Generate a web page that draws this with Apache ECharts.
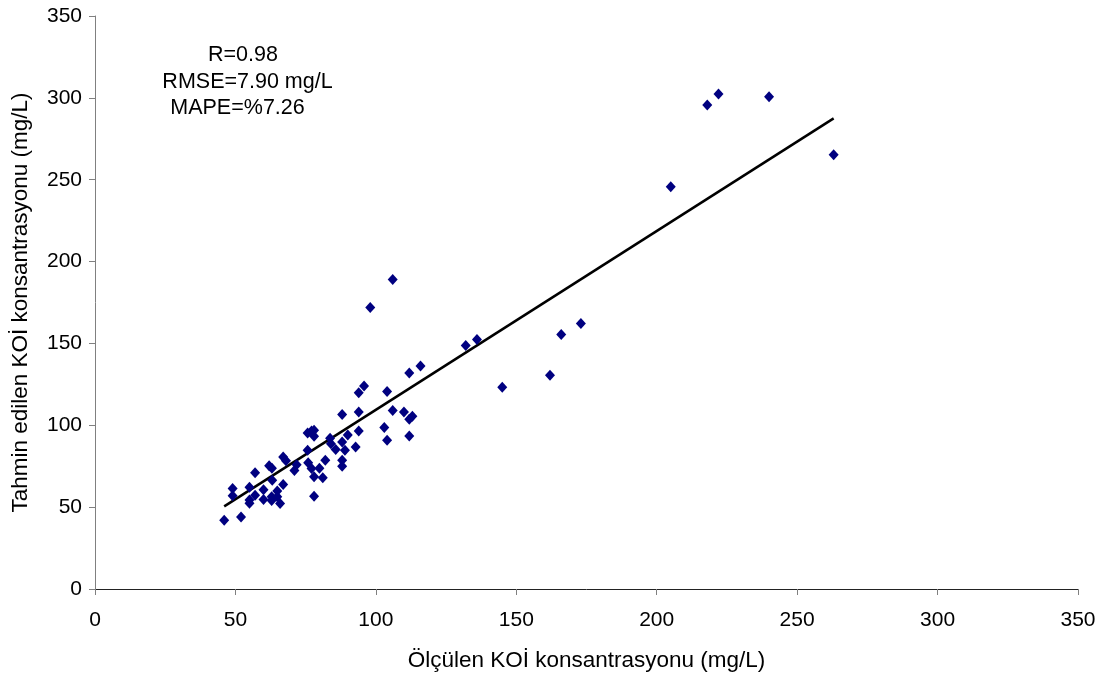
<!DOCTYPE html>
<html>
<head>
<meta charset="utf-8">
<script src="https://cdn.jsdelivr.net/npm/echarts@6/dist/echarts.min.js"></script>
<style>html,body{margin:0;padding:0;background:#fff;}#c{width:1115px;height:682px;}</style>
</head>
<body>
<div id="c"></div>
<script>
// Measured (x) and predicted (y) COD values, mg/L
const measured = [46,52,49,49,55,55,55,57,57,60,60,62,63,63.1,62.9,62.9,64.9,64.9,65.9,67,68,67,71,71.8,75.7,77.1,78,78,75.7,75.9,77.1,78,78,79.9,81.1,82,83.7,84,85.7,88,88,88,88,89,90,92.8,93.9,95.8,93.9,93.9,103,104,104,106,110,111.9,113,111.9,111.9,115.9,98,106,132,136,145,162,166,173,205,218,222,240,263];
const predicted = [42,44,61.4,57,62.2,54.3,52.4,71,57.3,60.7,54.7,75.3,73.8,66.5,56.4,54,59.8,56.3,52.3,80.7,78.4,63.8,72.4,75.9,95.3,96.5,93.3,97,84.8,77.1,73.6,68.5,56.7,73.8,67.9,78.7,92.1,88.7,85.2,106.6,89.8,78.7,75,84.8,94.1,86.8,119.9,124,108.1,96.5,98.6,120.7,90.9,109.1,108.1,103.7,105.5,93.5,131.9,136.2,172,189,148.8,152.4,123.2,130.5,155.5,162.2,245.7,295.7,302.4,300.6,265.2];
// Trend line endpoints [x, y]
const trendX = [46, 263];
const trendY = [50.5, 287.5];
const tickValues = [0,50,100,150,200,250,300,350];
const statsText = ["R=0.98", "RMSE=7.90 mg/L", "MAPE=%7.26"];

const FONT = "Liberation Sans, Arial, sans-serif";
const pts = measured.map((v,i)=>[v, predicted[i]]);
const line = trendX.map((v,i)=>[v, trendY[i]]);

const chart = echarts.init(document.getElementById('c'), null, {renderer:'canvas'});
chart.setOption({
  backgroundColor:'#fff',
  animation:false,
  grid:{left:95,right:37,top:16,bottom:93,containLabel:false},
  xAxis:{
    type:'value',min:0,max:350,interval:50,
    name:'Ölçülen KOİ konsantrasyonu (mg/L)',nameLocation:'middle',nameGap:60,
    nameTextStyle:{fontFamily:FONT,fontSize:22.5,color:'#000'},
    axisLine:{show:true,onZero:false,lineStyle:{color:'#222',width:1}},
    axisTick:{show:true,inside:false,length:6,lineStyle:{color:'#808080'}},
    axisLabel:{fontFamily:FONT,fontSize:21,color:'#000',margin:21},
    splitLine:{show:false}
  },
  yAxis:{
    type:'value',min:0,max:350,interval:50,
    name:'Tahmin edilen KOİ konsantrasyonu (mg/L)',nameLocation:'middle',nameGap:63,
    nameTextStyle:{fontFamily:FONT,fontSize:22.5,color:'#000'},
    axisLine:{show:true,onZero:false,lineStyle:{color:'#808080',width:1}},
    axisTick:{show:true,inside:false,length:6,lineStyle:{color:'#808080'}},
    axisLabel:{fontFamily:FONT,fontSize:21,color:'#000',margin:13},
    splitLine:{show:false}
  },
  series:[
    {type:'scatter',data:pts,symbol:'diamond',symbolSize:[10,11],itemStyle:{color:'#000080',opacity:1},z:3},
    {type:'line',data:line,symbol:'none',lineStyle:{color:'#000',width:2.5},z:2}
  ],
  graphic:[
    {type:'text',x:243,y:55,style:{text:statsText[0],font:'21.5px '+FONT,fill:'#000',textAlign:'center',textVerticalAlign:'middle'}},
    {type:'text',x:247.5,y:82,style:{text:statsText[1],font:'21.5px '+FONT,fill:'#000',textAlign:'center',textVerticalAlign:'middle'}},
    {type:'text',x:237.5,y:108,style:{text:statsText[2],font:'21.5px '+FONT,fill:'#000',textAlign:'center',textVerticalAlign:'middle'}}
  ]
});
</script>
</body>
</html>
